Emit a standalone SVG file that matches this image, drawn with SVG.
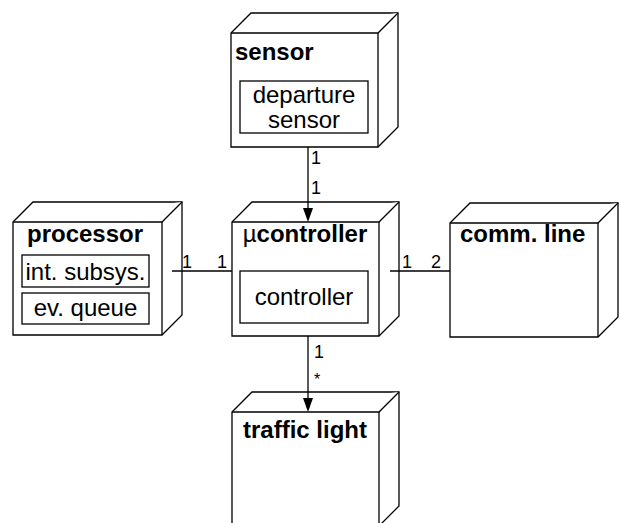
<svg xmlns="http://www.w3.org/2000/svg" width="621" height="523" viewBox="0 0 621 523">
<defs>
<style>
.box{fill:#fff;stroke:#000;stroke-width:1.3;stroke-linejoin:miter}
.inner{fill:#fff;stroke:#000;stroke-width:1.3}
.t{font-family:"Liberation Sans",Arial,sans-serif;font-size:24px;fill:#000}
.b{font-weight:bold}
.m{font-family:"Liberation Sans",Arial,sans-serif;font-size:18px;fill:#000}
.s{font-family:"Liberation Sans",Arial,sans-serif;font-size:16px;fill:#000}
.c{fill:none;stroke:#000;stroke-width:1.3}
.ah{fill:#000;stroke:none}
</style>
</defs>
<rect width="621" height="523" fill="#fff"/>
<g id="sensor">
<polygon class="box" points="231,33 251,13 398,13 398,127 378,147 231,147"/>
<polyline class="box" points="231,33 378,33 398,13"/>
<line class="box" x1="378" y1="33" x2="378" y2="147"/>
<text class="t b" x="235" y="60">sensor</text>
<rect class="inner" x="240" y="81" width="128" height="52"/>
<text class="t" x="304" y="103" text-anchor="middle">departure</text>
<text class="t" x="304" y="128" text-anchor="middle">sensor</text>
</g>
<g id="processor">
<polygon class="box" points="13,222 33,202 182,202 182,315 162,335 13,335"/>
<polyline class="box" points="13,222 162,222 182,202"/>
<line class="box" x1="162" y1="222" x2="162" y2="335"/>
<text class="t b" x="85" y="242" text-anchor="middle">processor</text>
<rect class="inner" x="22" y="255" width="127" height="32"/>
<text class="t" x="85.5" y="280" text-anchor="middle">int. subsys.</text>
<rect class="inner" x="22" y="293" width="127" height="31"/>
<text class="t" x="85.5" y="316" text-anchor="middle">ev. queue</text>
</g>
<g id="ucontroller">
<polygon class="box" points="232,222 252,202 399,202 399,316 379,336 232,336"/>
<polyline class="box" points="232,222 379,222 399,202"/>
<line class="box" x1="379" y1="222" x2="379" y2="336"/>
<text class="t" x="305" y="242" text-anchor="middle">µ<tspan class="b">controller</tspan></text>
<rect class="inner" x="240" y="271" width="128" height="52"/>
<text class="t" x="304" y="305" text-anchor="middle">controller</text>
</g>
<g id="commline">
<polygon class="box" points="450,223 470,203 618,203 618,317 598,337 450,337"/>
<polyline class="box" points="450,223 598,223 618,203"/>
<line class="box" x1="598" y1="223" x2="598" y2="337"/>
<text class="t b" x="460" y="242">comm. line</text>
</g>
<g id="trafficlight">
<polygon class="box" points="232,412 252,392 399,392 399,506 379,526 232,526"/>
<polyline class="box" points="232,412 379,412 399,392"/>
<line class="box" x1="379" y1="412" x2="379" y2="526"/>
<text class="t b" x="305" y="438" text-anchor="middle">traffic light</text>
</g>
<g id="connectors">
<line class="c" x1="308" y1="147" x2="308" y2="210"/>
<polygon class="ah" points="308,222 303,208 313,208"/>
<text class="m" x="311" y="164">1</text>
<text class="m" x="311" y="194">1</text>
<line class="c" x1="308" y1="336" x2="308" y2="400"/>
<polygon class="ah" points="308,412 303,398 313,398"/>
<text class="m" x="314" y="358">1</text>
<text class="s" x="314" y="385">*</text>
<line class="c" x1="172" y1="271" x2="232" y2="271"/>
<text class="m" x="182" y="268">1</text>
<text class="m" x="217" y="268">1</text>
<line class="c" x1="390" y1="271" x2="450" y2="271"/>
<text class="m" x="402" y="268">1</text>
<text class="m" x="431" y="268">2</text>
</g>
</svg>
